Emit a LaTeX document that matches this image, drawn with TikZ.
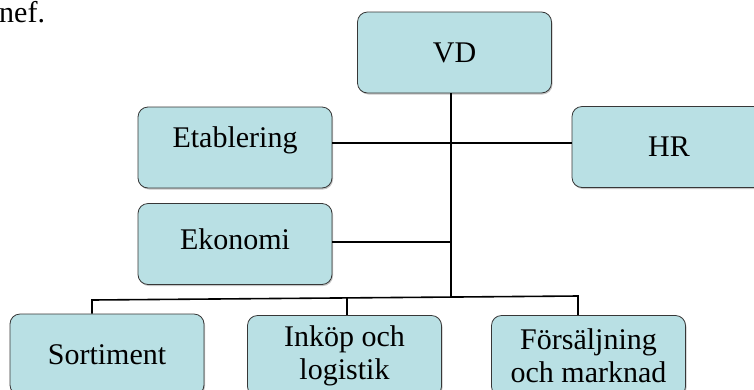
\documentclass[tikz,border=0pt]{standalone}
\usepackage{fontspec}
\setmainfont{Liberation Serif}
\usetikzlibrary{shadows}
\definecolor{boxfill}{RGB}{185,224,228}
\definecolor{boxline}{RGB}{55,55,55}
\begin{document}
\begin{tikzpicture}[x=1pt,y=-1pt,
  unit/.style={draw=boxline, line width=0.8pt, fill=boxfill, rounded corners=10pt,
    minimum width=194pt, minimum height=81pt, inner sep=0pt, align=center,
    font=\fontsize{30}{33}\selectfont,
    drop shadow={shadow xshift=1pt, shadow yshift=-1.5pt, opacity=0.45, fill=gray}},
  link/.style={line width=1.6pt, draw=black}]
\useasboundingbox (0,0) rectangle (754,389);
\clip (0,0) rectangle (754,389);

% running text above the chart
\node[anchor=base west, inner sep=0pt, font=\fontsize{30}{33}\selectfont] (frag) at (-1,22) {nef.};

% organisation units
\node[unit] (vd)   at (454.5,52.5) {VD};
\node[unit, text height=20pt, text depth=20pt] (etab) at (235,147.5) {Etablering};
\node[unit, text height=20pt, text depth=10pt] (eko)  at (235,244) {Ekonomi};
\node[unit] (hr)   at (669,147)    {HR};
\node[unit] (sort) at (107,354.5)  {Sortiment};
\node[unit] (ink)  at (344.5,356)  {Inköp och\\logistik};
\node[unit] (fors) at (588.5,356)  {Försäljning\\och marknad};

% junction points
\coordinate (trunk) at (451,298);
\coordinate (hbar)  at (451,143);
\coordinate (ekoj)  at (451,242);
\coordinate (busL)  at (92,300);
\coordinate (busM)  at (347,298);
\coordinate (busR)  at (578,296);

% connectors
\draw[link] (vd.south -| trunk) -- (trunk);
\draw[link] (etab.east |- hbar) -- (hr.west |- hbar);
\draw[link] (eko.east |- ekoj) -- (ekoj);
\draw[link] (sort.north -| busL) -- (busL) -- (busR) -- (fors.north -| busR);
\draw[link] (busM) -- (ink.north -| busM);
\end{tikzpicture}
\end{document}
